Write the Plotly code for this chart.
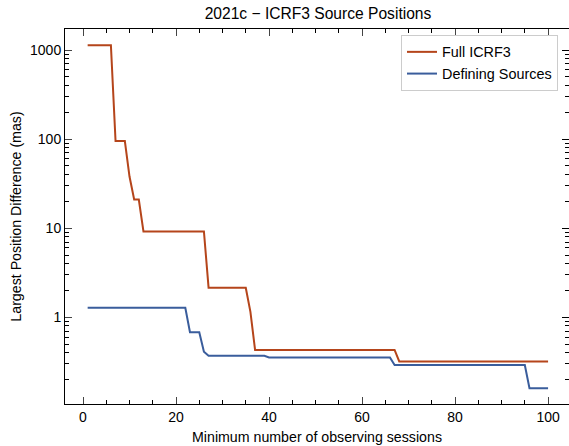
import plotly.graph_objects as go

# Data (breakpoints of step-like curves; lines are linear between them)
full_x = [1, 6, 7, 9, 10, 11, 12, 13, 26, 27, 35, 36, 37, 67, 68, 100]
full_y = [1130, 1130, 95, 95, 38, 21, 21, 9.2, 9.2, 2.15, 2.15, 1.15, 0.43, 0.43, 0.32, 0.32]

def_x = [1, 22, 23, 25, 26, 27, 39, 40, 66, 67, 95, 96, 100]
def_y = [1.28, 1.28, 0.68, 0.68, 0.41, 0.37, 0.37, 0.355, 0.355, 0.292, 0.292, 0.16, 0.16]

series_names = ["Full ICRF3", "Defining Sources"]
y_tick_vals = [1, 10, 100, 1000]
y_tick_text = ["1", "10", "100", "1000"]
x_tick_vals = [0, 20, 40, 60, 80, 100]

minor_y = [m * 10 ** e for e in (-1, 0, 1, 2, 3) for m in range(2, 10)]

FONT = "Arial, Liberation Sans, sans-serif"
Y_RANGE = [-0.973, 3.236]

fig = go.Figure()
fig.add_trace(go.Scatter(x=full_x, y=full_y, mode="lines", name=series_names[0],
                         line=dict(color="#B5451B", width=2)))
fig.add_trace(go.Scatter(x=def_x, y=def_y, mode="lines", name=series_names[1],
                         line=dict(color="#3A5D9C", width=2)))
# invisible copy bound to the right-hand axis so that its mirrored ticks are drawn
fig.add_trace(go.Scatter(x=full_x, y=full_y, mode="lines", yaxis="y2", showlegend=False,
                         hoverinfo="skip", opacity=0, line=dict(width=0)))

fig.update_layout(
    width=569, height=446,
    margin=dict(l=65, r=0, t=29, b=42),
    paper_bgcolor="white", plot_bgcolor="white",
    font=dict(family=FONT, size=14, color="black"),
    title=dict(text="2021c \u2212 ICRF3 Source Positions", x=318 / 569, xanchor="center",
               y=1 - 14 / 446, yanchor="middle", font=dict(size=15.6)),
    showlegend=True,
    legend=dict(x=(558 - 65) / 504, xanchor="right", y=1 - 6 / 375, yanchor="top",
                bgcolor="rgba(255,255,255,0.8)", bordercolor="#cccccc", borderwidth=1,
                font=dict(size=14.4), tracegroupgap=0),
    yaxis2=dict(
        type="log", range=Y_RANGE, overlaying="y", side="right", anchor="x",
        showline=False, showgrid=False, zeroline=False, showticklabels=False,
        tickvals=y_tick_vals, ticks="inside", ticklen=7, tickwidth=1, tickcolor="black",
        minor=dict(tickvals=minor_y, ticks="inside", ticklen=4, tickwidth=1,
                   tickcolor="black", showgrid=False),
    ),
)

fig.update_xaxes(
    range=[-3.87, 104.5], tickvals=x_tick_vals, ticks="inside", ticklen=7, tickwidth=1,
    showline=True, linecolor="black", linewidth=1, mirror="ticks", showgrid=False,
    zeroline=False, tickfont=dict(size=14),
    minor=dict(dtick=5, ticks="inside", ticklen=4, tickwidth=1, tickcolor="black", showgrid=False),
    title=dict(text="Minimum number of observing sessions", font=dict(size=14.2), standoff=8),
)
fig.layout.yaxis.update(
    type="log", range=Y_RANGE, tickvals=y_tick_vals, ticktext=y_tick_text,
    ticks="inside", ticklen=7, tickwidth=1,
    showline=True, linecolor="black", linewidth=1, showgrid=False,
    zeroline=False, tickfont=dict(size=14),
    minor=dict(tickvals=minor_y, ticks="inside", ticklen=4, tickwidth=1, tickcolor="black", showgrid=False),
    title=dict(text="Largest Position Difference (mas)", font=dict(size=14.2), standoff=5),
)

fig.write_html("out.html")
